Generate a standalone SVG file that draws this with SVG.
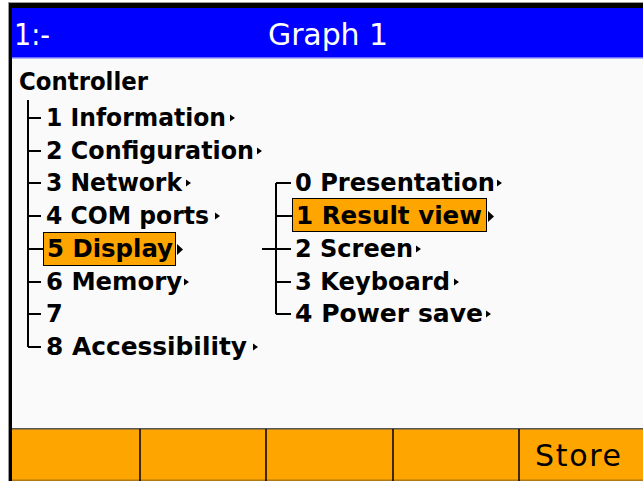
<svg xmlns="http://www.w3.org/2000/svg" width="643" height="481" viewBox="0 0 643 481">
<style>
.hdr{font-family:"DejaVu Sans","Liberation Sans",sans-serif;font-size:30px;fill:#ffffff}
.itm{font-family:"DejaVu Sans","Liberation Sans",sans-serif;font-size:24px;font-weight:bold;fill:#000000}
.btn{font-family:"DejaVu Sans","Liberation Sans",sans-serif;font-size:30px;fill:#000000}
.ln{stroke:#000000;stroke-width:2;fill:none}
.hl{fill:#FFA500;stroke:#000000;stroke-width:1}
.ar{fill:#000000}
.div{stroke:#000000;stroke-width:1.5}
</style>
<!-- frame -->
<rect x="0" y="0" width="643" height="481" fill="#ffffff"/>
<rect x="8" y="2" width="635" height="479" fill="#fafafa"/>
<rect x="8" y="2" width="635" height="1" fill="#999999"/>
<rect x="8" y="3" width="635" height="5" fill="#000000"/>
<rect x="8" y="3" width="1" height="478" fill="#999999"/>
<rect x="9" y="3" width="3" height="478" fill="#000000"/>
<!-- header -->
<g id="header">
<rect x="12" y="8" width="631" height="49" fill="#0000ff"/>
<rect x="12" y="57" width="631" height="1.5" fill="#6b6bff"/>
<text class="hdr" x="14" y="45" textLength="36" lengthAdjust="spacingAndGlyphs">1:-</text>
<text class="hdr" x="268" y="45" textLength="120" lengthAdjust="spacing">Graph 1</text>
</g>
<!-- connectors -->
<g id="connectors">
<path class="ln" d="M28 100 V347"/>
<path class="ln" d="M28 118 H41 M28 151 H41 M28 183 H41 M28 216 H41 M28 249 H43 M28 282 H41 M28 314 H41 M28 347 H41"/>
<path class="ln" d="M276 183 V314"/>
<path class="ln" d="M276 183 H291 M276 216 H292 M262 249 H291 M276 282 H291 M276 314 H291"/>
</g>
<g id="controller"><text class="itm" x="19" y="90" textLength="129" lengthAdjust="spacingAndGlyphs">Controller</text></g>
<g id="n1"><text class="itm" x="46" y="126" textLength="180" lengthAdjust="spacingAndGlyphs">1 Information</text><polygon class="ar" points="230,114.5 235,118 230,121.5"/></g>
<g id="n2"><text class="itm" x="46" y="159" textLength="208" lengthAdjust="spacingAndGlyphs">2 Configuration</text><polygon class="ar" points="257,147.5 262,151 257,154.5"/></g>
<g id="n3"><text class="itm" x="46" y="191" textLength="136" lengthAdjust="spacingAndGlyphs">3 Network</text><polygon class="ar" points="186,179.5 191,183 186,186.5"/></g>
<g id="n4"><text class="itm" x="46" y="224" textLength="163" lengthAdjust="spacingAndGlyphs">4 COM ports</text><polygon class="ar" points="215,212.5 220,216 215,219.5"/></g>
<g id="n5"><rect class="hl" x="43.5" y="232.5" width="132" height="33"/><text class="itm" x="47" y="257" textLength="126" lengthAdjust="spacingAndGlyphs">5 Display</text><polygon class="ar" points="177,244 183,249.5 177,255"/></g>
<g id="n6"><text class="itm" x="46" y="290" textLength="136" lengthAdjust="spacingAndGlyphs">6 Memory</text><polygon class="ar" points="184,278.5 189,282 184,285.5"/></g>
<g id="n7"><text class="itm" x="46" y="322">7</text></g>
<g id="n8"><text class="itm" x="46" y="355" textLength="201" lengthAdjust="spacingAndGlyphs">8 Accessibility</text><polygon class="ar" points="253,343.5 258,347 253,350.5"/></g>
<g id="s0"><text class="itm" x="295" y="191" textLength="200" lengthAdjust="spacingAndGlyphs">0 Presentation</text><polygon class="ar" points="497,179.5 502,183 497,186.5"/></g>
<g id="s1"><rect class="hl" x="292.5" y="198.5" width="194" height="33"/><text class="itm" x="296" y="224" textLength="186" lengthAdjust="spacingAndGlyphs">1 Result view</text><polygon class="ar" points="488,211 494,216.5 488,222"/></g>
<g id="s2"><text class="itm" x="295" y="257" textLength="118" lengthAdjust="spacingAndGlyphs">2 Screen</text><polygon class="ar" points="416,245.5 421,249 416,252.5"/></g>
<g id="s3"><text class="itm" x="295" y="290" textLength="155" lengthAdjust="spacingAndGlyphs">3 Keyboard</text><polygon class="ar" points="454,278.5 459,282 454,285.5"/></g>
<g id="s4"><text class="itm" x="295" y="322" textLength="188" lengthAdjust="spacingAndGlyphs">4 Power save</text><polygon class="ar" points="486,310.5 491,314 486,317.5"/></g>
<!-- footer -->
<g id="footer">
<rect x="12" y="428" width="631" height="53" fill="#FFA500"/>
<rect x="12" y="428" width="631" height="1.5" fill="#555555"/>
<rect x="12" y="479.5" width="631" height="1.5" fill="#b07a10"/>
<line class="div" x1="140" y1="429" x2="140" y2="481"/>
<line class="div" x1="266" y1="429" x2="266" y2="481"/>
<line class="div" x1="393" y1="429" x2="393" y2="481"/>
<line class="div" x1="519" y1="429" x2="519" y2="481"/>
<text class="btn" x="535" y="466" textLength="86" lengthAdjust="spacing">Store</text>
</g>
</svg>
